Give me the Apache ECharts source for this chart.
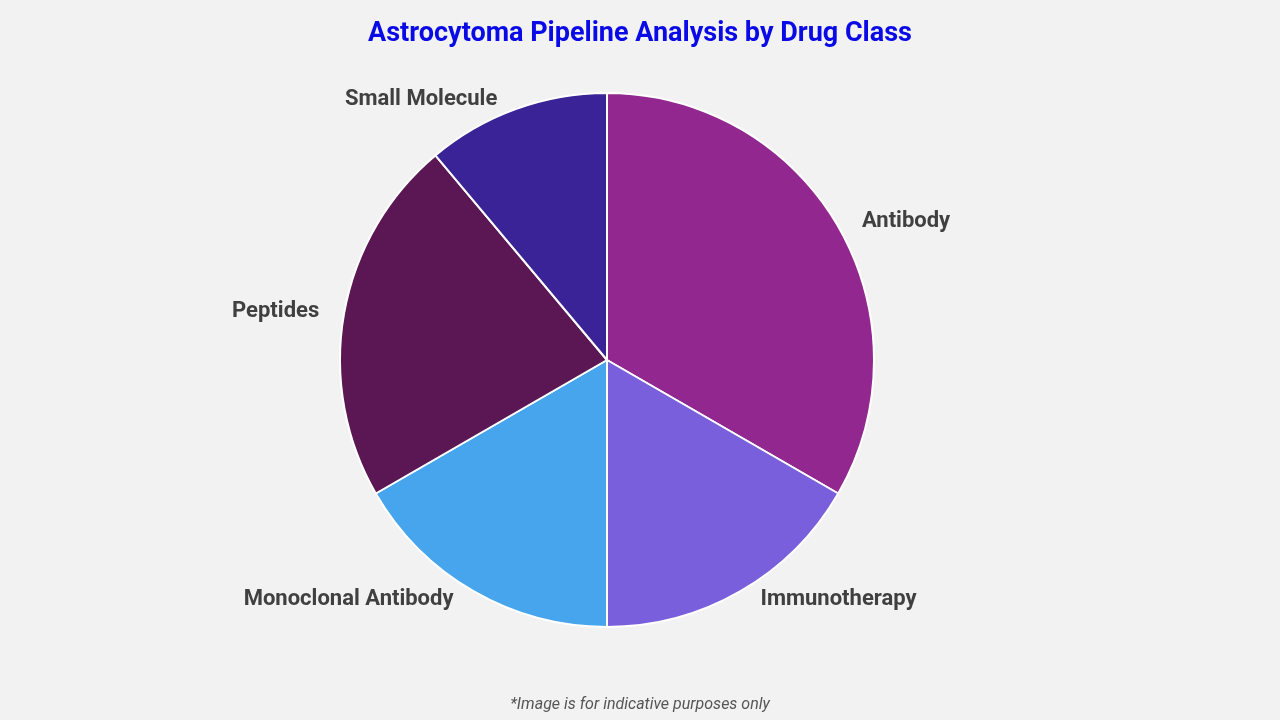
<!DOCTYPE html>
<html>
<head>
<meta charset="utf-8">
<script src="https://cdn.jsdelivr.net/npm/echarts@6/dist/echarts.min.js"></script>
<style>
html,body{margin:0;padding:0;background:#f2f2f2;}
#chart{width:1280px;height:720px;}
</style>
</head>
<body>
<div id="chart"></div>
<script>
// drug classes and pipeline counts
var categories = ['Antibody', 'Immunotherapy', 'Monoclonal Antibody', 'Peptides', 'Small Molecule'];
var values = [6, 3, 3, 4, 2];
var colors = ['#91278f', '#7a5fdc', '#46a5ec', '#5a1753', '#3a2396'];

var chart = echarts.init(document.getElementById('chart'));
var option = {
	backgroundColor : '#f2f2f2',
	title : {
		text : 'Astrocytoma Pipeline Analysis by Drug Class',
		left : 'center',
		top : 16,
		textStyle : { fontFamily : 'Roboto', fontSize : 27, fontWeight : 'bold', color : '#0a0ae6' }
	},
	graphic : [ {
		type : 'text',
		left : 'center',
		top : 697,
		style : { text : '*Image is for indicative purposes only', font : 'italic 16px Roboto', fill : '#555' }
	} ],
	series : [ {
		type : 'pie',
		center : [ 607, 360 ],
		radius : [ 0, 267 ],
		startAngle : 90,
		clockwise : true,
		itemStyle : { borderColor : '#ffffff', borderWidth : 2 },
		label : {
			show : true,
			position : 'outside',
			fontFamily : 'Roboto',
			fontSize : 22,
			fontWeight : 'bold',
			color : '#404040'
		},
		labelLine : { show : false, length : 10, length2 : 10 },
		data : categories.map(function(c, i) {
			return { name : c, value : values[i], itemStyle : { color : colors[i] } };
		})
	} ]
};
chart.setOption(option);
</script>
</body>
</html>
